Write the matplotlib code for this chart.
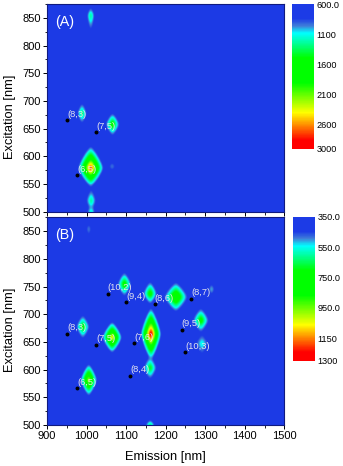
import numpy as np
import matplotlib
matplotlib.use("Agg")
import matplotlib.pyplot as plt
from matplotlib.cm import ScalarMappable
from matplotlib.colors import LinearSegmentedColormap, Normalize

plt.rcParams['font.family'] = ['Liberation Sans', 'DejaVu Sans']

# spots: centre, peak height, half width, reach down and up
# (the map between the spots is only an approximation built from these)
spot_em_a = [1010, 988, 1065, 1010, 1064, 1011, 1011, 1063]
spot_ex_a = [855, 678, 658, 579, 582, 520, 500, 500]
spot_peak_a = [1450, 1550, 1850, 3000, 1050, 1400, 1300, 820]
spot_w_a = [15, 18, 24, 38, 22, 20, 17, 9]
spot_down_a = [45, 28, 28, 40, 18, 30, 10, 12]
spot_up_a = [24, 28, 28, 46, 18, 34, 25, 12]

spot_em_b = [1005, 1095, 1160, 1225, 1315, 1288, 1291, 1208, 990, 1064, 1162, 1160, 1005, 1160, 1005, 1005]
spot_ex_b = [854, 754, 737, 731, 745, 689, 647, 661, 677, 658, 664, 603, 581, 500, 527, 498]
spot_peak_b = [540, 840, 840, 960, 580, 820, 600, 470, 800, 1180, 1400, 760, 1100, 700, 430, 520]
spot_w_b = [14, 24, 24, 38, 15, 28, 28, 15, 24, 30, 30, 24, 26, 18, 8, 9]
spot_down_b = [30, 30, 26, 34, 20, 30, 36, 18, 30, 34, 55, 30, 36, 14, 26, 10]
spot_up_b = [22, 30, 30, 34, 20, 30, 30, 18, 30, 34, 55, 30, 36, 14, 26, 10]

# chirality labels and their dots
dot_em_a = [951, 1024, 976]
dot_ex_a = [665, 644, 566]
dot_txt_a = ['(8,3)', '(7,5)', '(6,5)']

dot_em_b = [951, 1024, 976, 1053, 1100, 1172, 1265, 1241, 1249, 1120, 1110]
dot_ex_b = [665, 645, 566, 737, 722, 718, 728, 672, 632, 648, 589]
dot_txt_b = ['(8,3)', '(7,5)', '(6,5)', '(10,2)', '(9,4)', '(8,6)', '(8,7)',
             '(9,5)', '(10,3)', '(7,6)', '(8,4)']

ticks_a = [600, 1100, 1600, 2100, 2600, 3000]
ticklabels_a = ['600.0', '1100', '1600', '2100', '2600', '3000']
ticks_b = [350, 550, 750, 950, 1150, 1300]
ticklabels_b = ['350.0', '550.0', '750.0', '950.0', '1150', '1300']

blue = (0.11, 0.23, 0.90)
cmap = LinearSegmentedColormap.from_list('spectrum', [
    (0.0, blue), (0.10, blue), (0.15, (0.25, 0.50, 0.85)), (0.20, (0.0, 1.0, 1.0)),
    (0.37, (0.0, 1.0, 0.0)), (0.545, (0.0, 1.0, 0.0)), (0.75, (1.0, 1.0, 0.0)),
    (0.835, (1.0, 0.55, 0.0)), (0.94, (1.0, 0.0, 0.0)), (1.0, (1.0, 0.0, 0.0))])

W, H = 343, 466
fig = plt.figure(figsize=(W / 100, H / 100), dpi=100)


def box(x0, y0, x1, y1):
    return [x0 / W, 1 - y1 / H, (x1 - x0) / W, (y1 - y0) / H]


def soften(z):
    # the source map is a blurry raster
    kernel = np.exp(-0.5 * (np.arange(-9, 10) / 3.0) ** 2)
    kernel = kernel / kernel.sum()
    z = np.pad(z, 9, mode='edge')
    z = np.apply_along_axis(np.convolve, 0, z, kernel, mode='same')
    z = np.apply_along_axis(np.convolve, 1, z, kernel, mode='same')
    return z[9:-9, 9:-9]


def spot_map(em, ex, peak, w, down, up, base):
    gx, gy = np.meshgrid(np.arange(900, 1501), np.arange(500, 876))
    z = np.full(gx.shape, float(base))
    for c, e, p, hw, d, u in zip(em, ex, peak, w, down, up):
        reach = np.where(gy < e, d, u)
        dist = (np.abs((gx - c) / hw) ** 1.25 + np.abs((gy - e) / reach) ** 1.25) ** (1 / 1.25)
        z = np.maximum(z, base + (p - base) * np.interp(dist, [0, 0.35, 0.7, 1], [1, 0.55, 0.22, 0]))
    return soften(z)


def panel(pos, cpos, spots, dot_em, dot_ex, dot_txt, ticks, ticklabels, name):
    ax = fig.add_axes(box(*pos))
    vmin, vmax = ticks[0], ticks[-1]
    ax.imshow(spot_map(*spots, vmin), origin='lower', extent=(900, 1500, 500, 875), aspect='auto',
              cmap=cmap, vmin=vmin, vmax=vmax, interpolation='bilinear')
    ax.set_xlim(900, 1500)
    ax.set_ylim(500, 875)
    ax.set_xticks(range(900, 1501, 100))
    ax.set_xticks(range(950, 1500, 100), minor=True)
    ax.set_yticks(range(500, 851, 50))
    ax.set_yticks(range(525, 876, 50), minor=True)
    ax.tick_params(which='major', length=3, width=0.7, labelsize=8, pad=1.5)
    ax.tick_params(which='minor', length=1.8, width=0.6)
    for s in ax.spines.values():
        s.set_color('#101a80')
        s.set_linewidth(0.8)
    ax.set_ylabel('Excitation [nm]', fontsize=9.3, labelpad=4.5, y=0.456)

    ax.scatter(dot_em, dot_ex, s=8, color='black', zorder=3, linewidths=0)
    for x, y, t in zip(dot_em, dot_ex, dot_txt):
        ax.annotate(t, (x, y), xytext=(0, 4.2), textcoords='offset points', color='#e4e4ee',
                    fontsize=6.7, ha='left', va='center', zorder=4)
    ax.text(0.034, 0.915, name, transform=ax.transAxes, color='white', fontsize=10.3,
            ha='left', va='center')

    cax = fig.add_axes(box(*cpos))
    cb = fig.colorbar(ScalarMappable(Normalize(vmin, vmax), cmap), cax=cax)
    cax.invert_yaxis()
    cb.outline.set_visible(False)
    cb.set_ticks(ticks)
    cb.set_ticklabels(ticklabels)
    cax.tick_params(length=0, labelsize=6.6, pad=1.5)
    return ax


spots_a = (spot_em_a, spot_ex_a, spot_peak_a, spot_w_a, spot_down_a, spot_up_a)
ax_a = panel((47, 4, 284.3, 211.7), (291.7, 4, 314.3, 149), spots_a,
             dot_em_a, dot_ex_a, dot_txt_a, ticks_a, ticklabels_a, '(A)')
ax_a.tick_params(axis='x', labelbottom=False)

spots_b = (spot_em_b, spot_ex_b, spot_peak_b, spot_w_b, spot_down_b, spot_up_b)
ax_b = panel((47, 217.3, 284.3, 425), (292.7, 217, 315.3, 361), spots_b,
             dot_em_b, dot_ex_b, dot_txt_b, ticks_b, ticklabels_b, '(B)')
ax_b.set_xlabel('Emission [nm]', fontsize=9.3, labelpad=7)

fig.savefig('out.png', dpi=100)
